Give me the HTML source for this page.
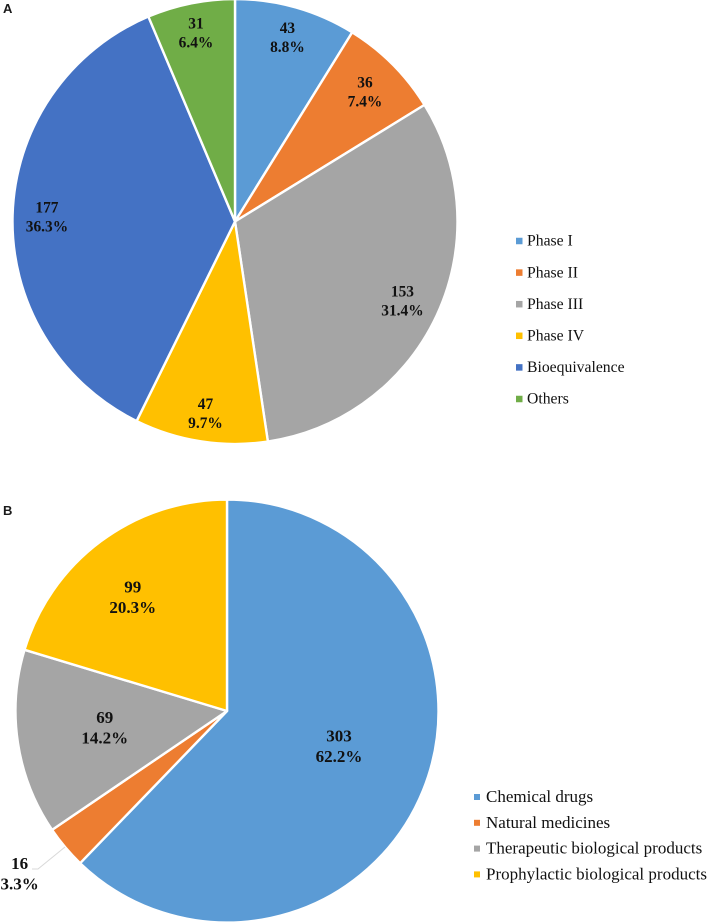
<!DOCTYPE html>
<html lang="en">
<head>
<meta charset="utf-8">
<title>Pie charts of trial phases and drug types</title>
<style>
html,body{margin:0;padding:0;background:#fff;}
body{width:708px;height:923px;overflow:hidden;}
svg{display:block;}
text{font-family:"Liberation Serif",serif;fill:#111;}
.panel{font-family:"Liberation Sans",sans-serif;font-weight:700;font-size:13px;fill:#1a1a1a;}
.val{font-weight:700;text-anchor:middle;}
</style>
</head>
<body>
<svg id="chart" xmlns="http://www.w3.org/2000/svg" width="708" height="923" viewBox="0 0 708 923">
<text class="panel" x="3" y="13">A</text>
<text class="panel" x="3" y="515">B</text>
</svg>
<script>
const categoriesA = ["Phase I", "Phase II", "Phase III", "Phase IV", "Bioequivalence", "Others"];
const valuesA = [43, 36, 153, 47, 177, 31];
const colorsA = ["#5B9BD5", "#ED7D31", "#A5A5A5", "#FFC000", "#4472C4", "#70AD47"];
const categoriesB = ["Chemical drugs", "Natural medicines", "Therapeutic biological products", "Prophylactic biological products"];
const valuesB = [303, 16, 69, 99];
const colorsB = ["#5B9BD5", "#ED7D31", "#A5A5A5", "#FFC000"];

const NS = "http://www.w3.org/2000/svg";
const svg = document.getElementById("chart");

function make(tag, attrs, parent) {
  const el = document.createElementNS(NS, tag);
  for (const k in attrs) el.setAttribute(k, attrs[k]);
  parent.appendChild(el);
  return el;
}
function point(cx, cy, r, frac) {
  const a = frac * 2 * Math.PI;
  return [cx + r * Math.sin(a), cy - r * Math.cos(a)];
}
function slug(s) {
  return s.toLowerCase().replace(/[^a-z0-9]+/g, "-");
}

function drawPie(cfg) {
  const total = cfg.values.reduce((a, b) => a + b, 0);
  const group = make("g", {}, svg);
  
  
  let acc = 0;
  cfg.values.forEach((v, i) => {
    const f0 = acc / total;
    const f1 = (acc + v) / total;
    acc += v;
    const p0 = point(cfg.cx, cfg.cy, cfg.r, f0);
    const p1 = point(cfg.cx, cfg.cy, cfg.r, f1);
    const large = f1 - f0 > 0.5 ? 1 : 0;
    const d = `M${cfg.cx} ${cfg.cy}L${p0[0]} ${p0[1]}A${cfg.r} ${cfg.r} 0 ${large} 1 ${p1[0]} ${p1[1]}Z`;
    const slice = make("path", { d: d, fill: cfg.colors[i], stroke: "#fff", "stroke-width": 2.4, "stroke-linejoin": "round" }, group);
    
    
  });
  acc = 0;
  cfg.values.forEach((v, i) => {
    const mid = (acc + v / 2) / total;
    acc += v;
    const c = point(cfg.cx, cfg.cy, cfg.r * cfg.labelRadius[i], mid);
    const x = c[0] + cfg.nudge[i][0];
    const y = c[1] + cfg.nudge[i][1];
    const label = make("text", { class: "val", x: x, "font-size": cfg.labelSize }, svg);
    
    
    const t1 = make("tspan", { x: x, y: y - cfg.labelGap / 2 + cfg.labelSize * 0.33 }, label);
    t1.textContent = String(v);
    const t2 = make("tspan", { x: x, y: y + cfg.labelGap / 2 + cfg.labelSize * 0.33 }, label);
    t2.textContent = (v / total * 100).toFixed(1) + "%";
  });
  cfg.categories.forEach((name, i) => {
    const ly = cfg.legendY + i * cfg.legendStep;
    const swatch = make("rect", { x: cfg.legendX, y: ly - cfg.swatch / 2, width: cfg.swatch, height: cfg.swatch, fill: cfg.colors[i] }, svg);
    
    
    const text = make("text", { x: cfg.legendTextX, y: ly + cfg.legendSize * 0.3, "font-size": cfg.legendSize }, svg);
    
    
    text.textContent = name;
  });
}

drawPie({
  id: "trial-phase", categories: categoriesA, values: valuesA, colors: colorsA,
  cx: 235, cy: 221.5, r: 222.5,
  labelRadius: [0.86, 0.825, 0.835, 0.86, 0.85, 0.86],
  nudge: [[0,0],[0,0],[-1,1],[0,3],[1,1],[-1,-1]],
  labelSize: 15.4, labelGap: 19,
  legendX: 516, legendTextX: 527, legendY: 241, legendStep: 31.6, swatch: 6.5, legendSize: 15.7
});
drawPie({
  id: "drug-type", categories: categoriesB, values: valuesB, colors: colorsB,
  cx: 227, cy: 711, r: 211.5,
  labelRadius: [0.53, 1.245, 0.585, 0.70],
  nudge: [[8,-7],[-6,-7],[0,-2],[-6,5]],
  labelSize: 17, labelGap: 20.5,
  legendX: 474, legendTextX: 486, legendY: 797, legendStep: 25.8, swatch: 6, legendSize: 17
});

const leader = make("polyline", { points: "65,847 38,869 32,869", fill: "none", stroke: "#d9d9d9", "stroke-width": 1 }, svg);


</script>
</body>
</html>
